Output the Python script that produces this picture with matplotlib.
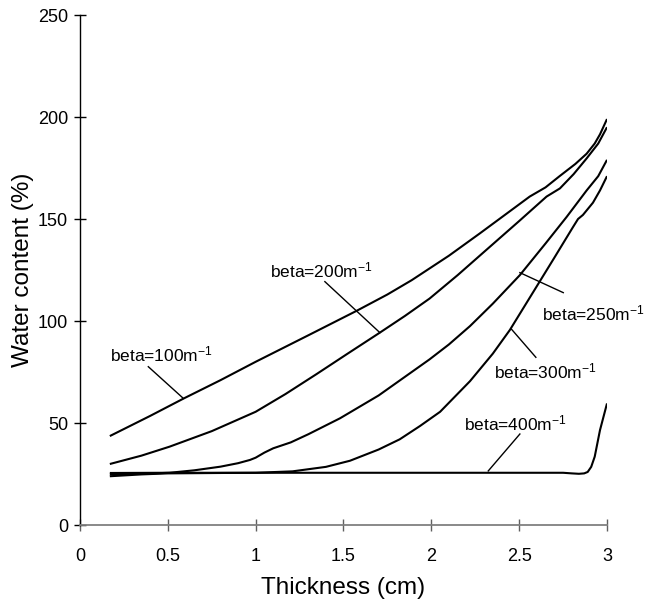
import matplotlib
matplotlib.use("Agg")
import matplotlib.pyplot as plt

plt.rcParams["font.family"] = ["Liberation Sans", "DejaVu Sans"]
plt.rcParams["mathtext.fontset"] = "custom"
plt.rcParams["mathtext.rm"] = "Liberation Sans"
plt.rcParams["mathtext.it"] = "Liberation Sans:italic"
plt.rcParams["mathtext.bf"] = "Liberation Sans:bold"

# Water content profiles for different extinction coefficients
x_b100 = [0.17, 0.4, 0.59, 0.8, 1.0, 1.3, 1.575, 1.75, 1.888, 2.1, 2.277,
          2.45, 2.56, 2.6, 2.65, 2.73, 2.82, 2.884, 2.93, 2.96, 3.0]
y_b100 = [43.6, 53.5, 62, 71, 80, 93, 105, 113, 120, 132, 143,
          154, 161, 163, 165.5, 171, 177, 182, 187, 191.5, 199]

x_b200 = [0.17, 0.35, 0.51, 0.75, 1.0, 1.17, 1.347, 1.52, 1.707, 1.85, 1.99,
          2.15, 2.315, 2.5, 2.656, 2.732, 2.81, 2.884, 2.95, 3.0]
y_b200 = [29.9, 34, 38.4, 46, 55.5, 64.2, 74, 83.8, 94.3, 102.5, 111,
          122.5, 135, 149, 161, 165, 172, 179.7, 187, 195]

x_b250 = [0.17, 0.35, 0.51, 0.65, 0.8, 0.9, 0.968, 1.0, 1.05, 1.1, 1.2, 1.3,
          1.48, 1.7, 1.99, 2.1, 2.22, 2.35, 2.504, 2.65, 2.77, 2.884, 2.95, 3.0]
y_b250 = [24.8, 25.1, 25.6, 26.8, 28.6, 30.3, 31.9, 33, 35.5, 37.6, 40.5, 44.5,
          52.3, 63.5, 81.2, 88.5, 97.5, 108.5, 122.5, 138, 151, 164, 171, 179]

x_b300 = [0.17, 0.35, 0.5, 0.8, 1.0, 1.21, 1.4, 1.537, 1.7, 1.82, 1.935, 2.05,
          2.22, 2.35, 2.447, 2.6, 2.7, 2.806, 2.835, 2.863, 2.92, 2.96, 3.0]
y_b300 = [23.9, 24.8, 25.3, 25.5, 25.6, 26.3, 28.5, 31.5, 37, 42, 48.5, 55.5,
          70.5, 84, 95.6, 117, 131, 146, 150, 152, 158, 164, 171]

x_b400 = [0.17, 0.5, 1.0, 1.5, 2.0, 2.5, 2.75, 2.8, 2.84, 2.87, 2.89, 2.91,
          2.93, 2.96, 3.0]
y_b400 = [25.5, 25.6, 25.6, 25.6, 25.6, 25.6, 25.6, 25.3, 25.1, 25.3, 26, 28.5,
          33.5, 46.5, 59.6]

curves = [(x_b100, y_b100), (x_b200, y_b200), (x_b250, y_b250),
          (x_b300, y_b300), (x_b400, y_b400)]

# Curve labels: text, text anchor (left, baseline), leader line endpoints
label_texts = [r"beta=100m$^{-1}$", r"beta=200m$^{-1}$", r"beta=250m$^{-1}$",
               r"beta=300m$^{-1}$", r"beta=400m$^{-1}$"]
label_pos = [(0.171, 80.4), (1.081, 121.4), (2.628, 100.5), (2.356, 71.9), (2.187, 46.2)]
leader_x = [(0.389, 0.588), (1.394, 1.707), (2.504, 2.751), (2.457, 2.595), (2.504, 2.324)]
leader_y = [(77.6, 62.1), (119.3, 94.3), (123.7, 113.9), (95.9, 82.2), (44.6, 26.5)]

x_ticks = [0, 0.5, 1, 1.5, 2, 2.5, 3]
x_ticklabels = ["0", "0.5", "1", "1.5", "2", "2.5", "3"]
y_ticks = [0, 50, 100, 150, 200, 250]

fig = plt.figure(figsize=(6.47, 6.0), dpi=100)
ax = fig.add_axes([0.1236, 0.125, 0.8146, 0.85])

for xs, ys in curves:
    ax.plot(xs, ys, color="black", lw=1.5, solid_joinstyle="round",
            solid_capstyle="butt")

for txt, (tx, ty), lx, ly in zip(label_texts, label_pos, leader_x, leader_y):
    ax.plot(lx, ly, color="black", lw=1.0)
    ax.text(tx, ty, txt, fontsize=12.5, ha="left", va="baseline", color="black")

ax.set_xlim(0, 3)
ax.set_ylim(0, 250)
ax.set_xticks(x_ticks)
ax.set_xticklabels(x_ticklabels)
ax.set_yticks(y_ticks)

for side in ("top", "right"):
    ax.spines[side].set_visible(False)
ax.spines["left"].set_color("black")
ax.spines["left"].set_linewidth(1.0)
ax.spines["bottom"].set_color("#808080")
ax.spines["bottom"].set_linewidth(1.3)

ax.tick_params(axis="x", direction="inout", length=8.6, width=1.0,
               color="#606060", labelsize=13, pad=12)
ax.tick_params(axis="y", direction="inout", length=8.6, width=1.0,
               color="black", labelsize=13, pad=4.3)

ax.set_xlabel("Thickness (cm)", fontsize=17.5, labelpad=9)
ax.set_ylabel("Water content (%)", fontsize=17.5, labelpad=3)

fig.savefig("out.png", dpi=100)
